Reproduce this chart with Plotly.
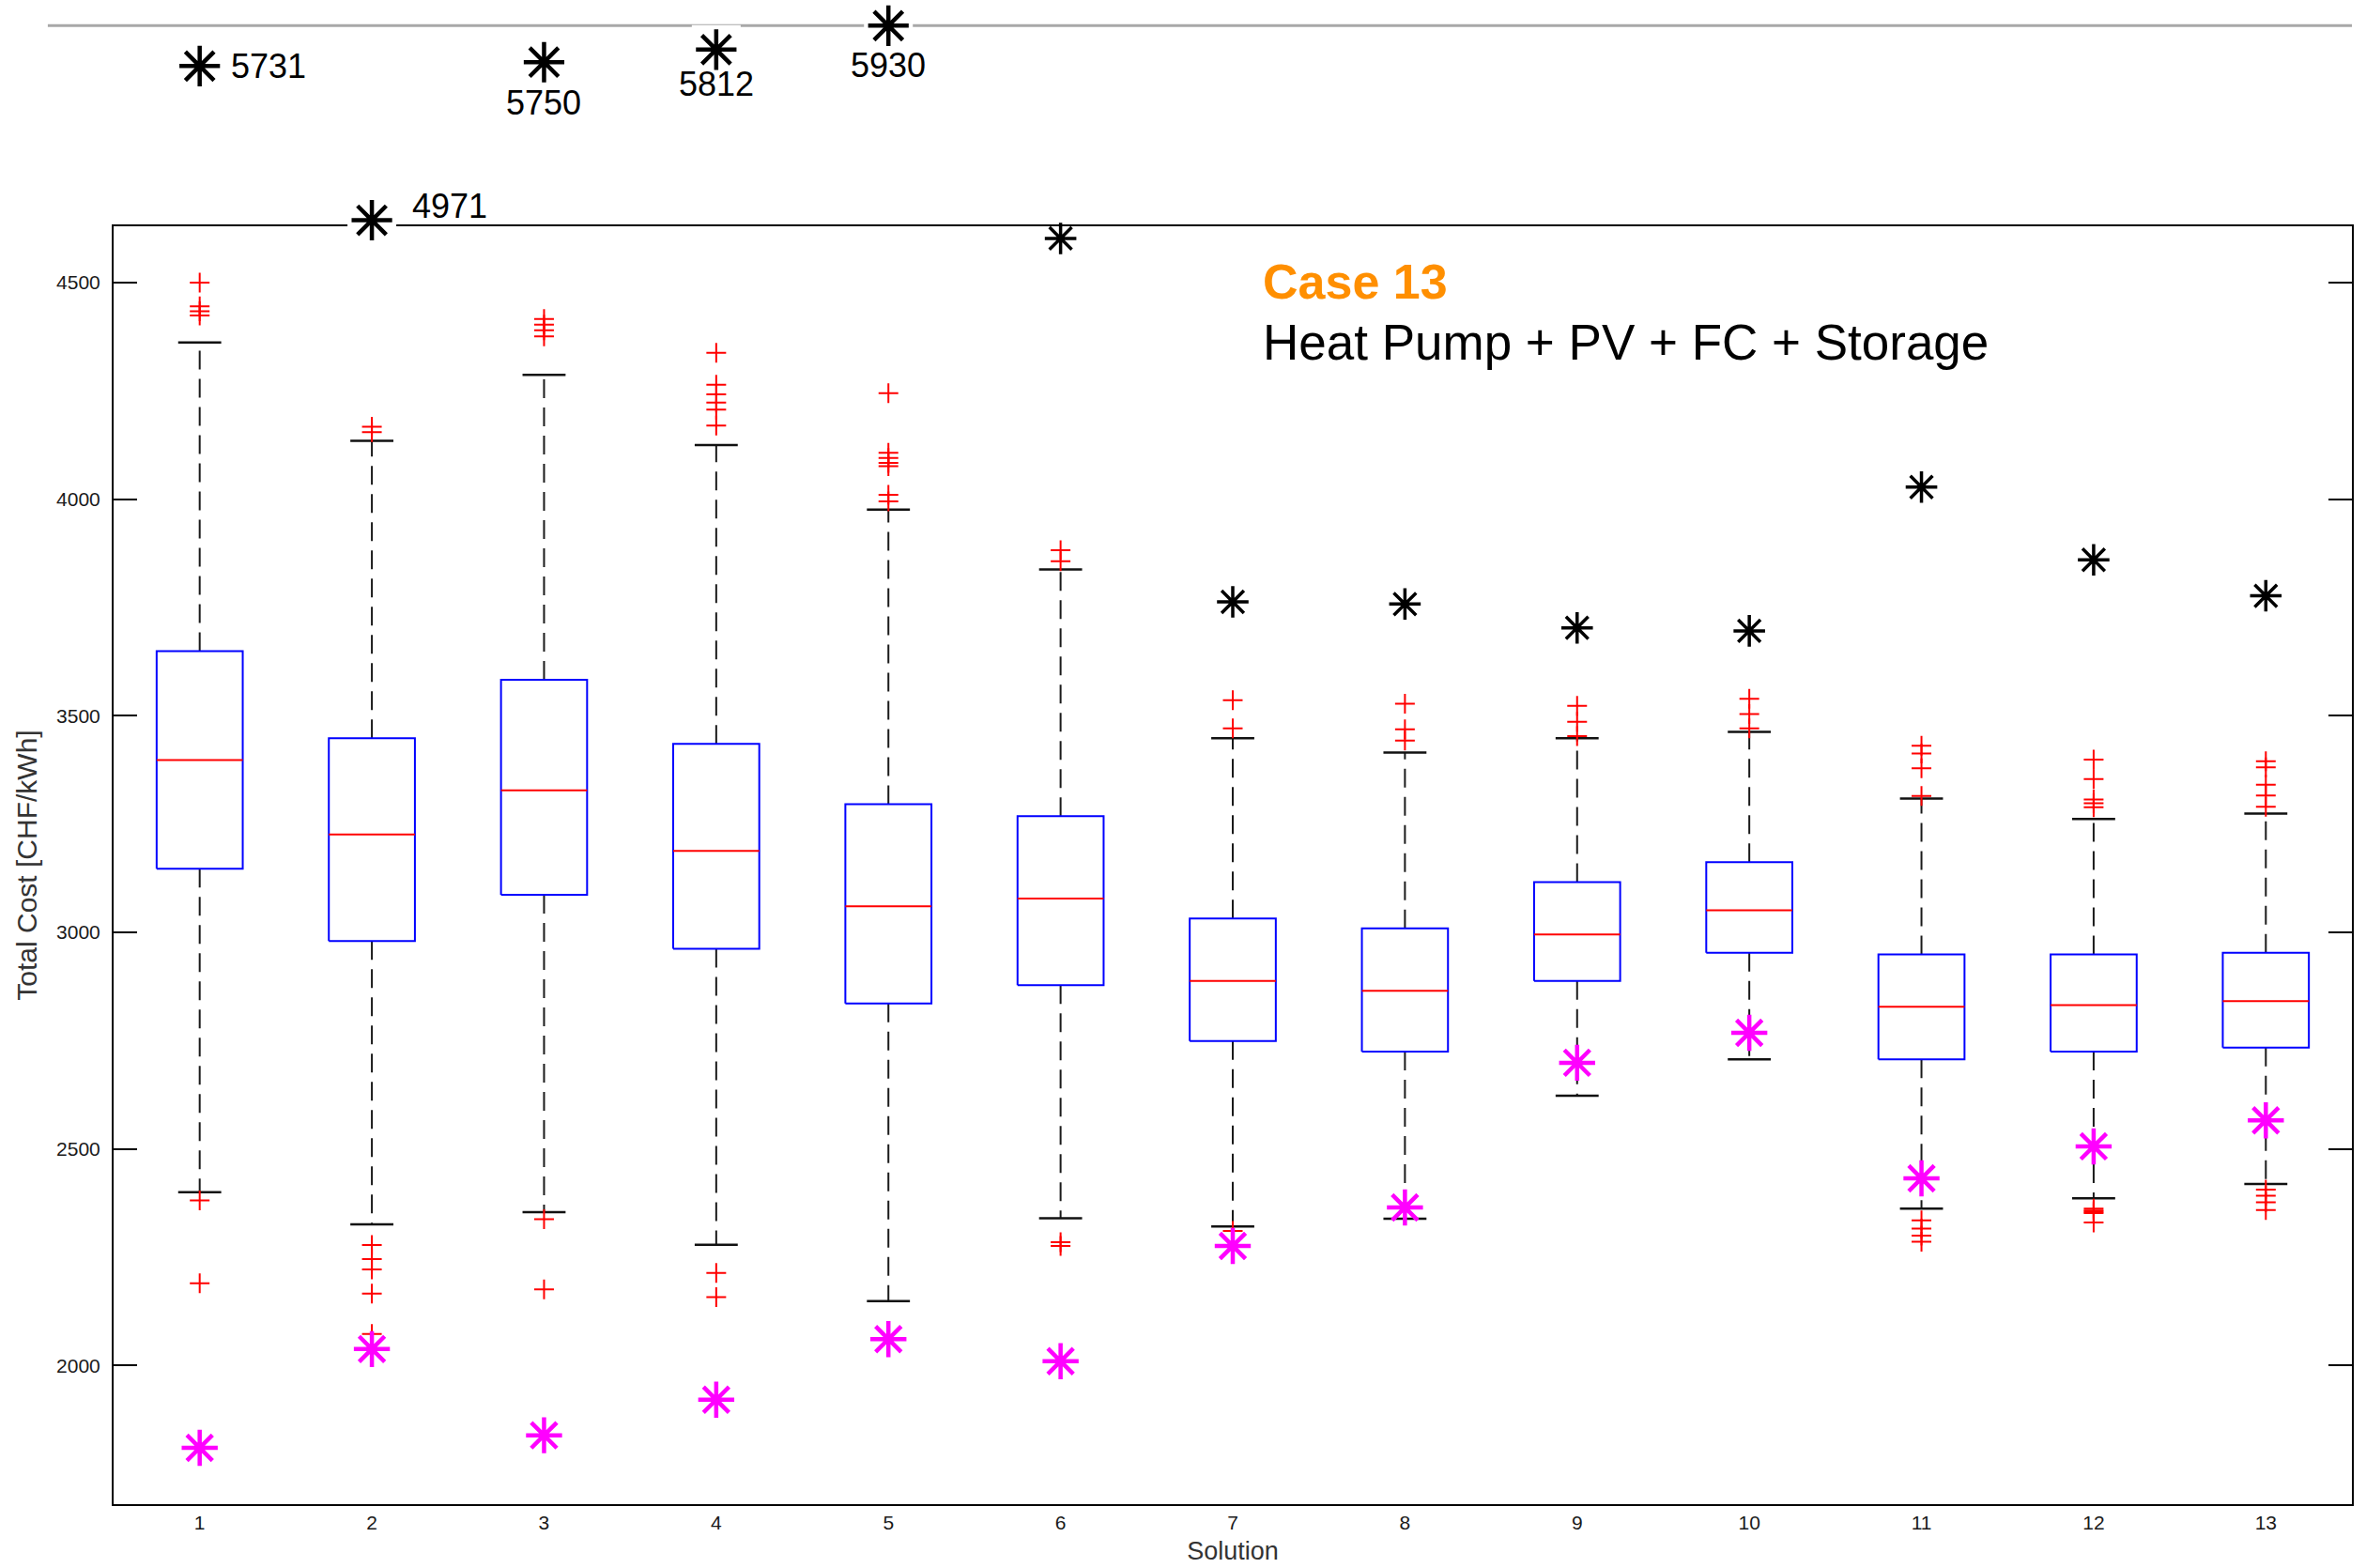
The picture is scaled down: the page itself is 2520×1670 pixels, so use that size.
import plotly.graph_objects as go

# ---- data -------------------------------------------------------------
solutions = list(range(1, 14))

q1 = [3147, 2980, 3087, 2962, 2836, 2878, 2749, 2725, 2888, 2953, 2707, 2725, 2734]
median = [3398, 3226, 3328, 3188, 3060, 3078, 2888, 2865, 2995, 3051, 2828, 2832, 2841]
q3 = [3649, 3448, 3583, 3435, 3296, 3268, 3032, 3009, 3116, 3162, 2949, 2949, 2953]
whisker_high = [4362, 4135, 4287, 4125, 3976, 3838, 3448, 3415, 3448, 3463, 3309, 3262, 3274]
whisker_low = [2400, 2326, 2354, 2279, 2149, 2340, 2321, 2339, 2623, 2707, 2362, 2386, 2419]

outliers = [
    [4500, 4445, 4434, 4424, 2381, 2190],
    [4167, 4155, 2278, 2246, 2222, 2166, 2073],
    [4416, 4403, 4390, 4376, 2338, 2176],
    [4338, 4264, 4242, 4223, 4207, 4170, 2214, 2158],
    [4245, 4107, 4095, 4084, 4076, 4010, 3995],
    [3882, 3857, 2285, 2276],
    [3536, 3471, 2311],
    [3528, 3469, 3443],
    [3523, 3486, 3453],
    [3539, 3504, 3471],
    [3431, 3413, 3379, 3315, 2335, 2316, 2300, 2286],
    [3399, 3354, 3307, 3298, 3289, 2362, 2358, 2355, 2352, 2330],
    [3395, 3381, 3341, 3316, 3290, 2406, 2392, 2377, 2359],
]

# black asterisks (upper reference) and magenta asterisks (lower reference)
ref_high = [5731, 4971, 5750, 5812, 5930, 4602, 3763, 3758, 3703, 3696, 4028, 3860, 3777]
ref_low = [1810, 2038, 1839, 1921, 2061, 2010, 2276, 2365, 2699, 2768, 2432, 2506, 2566]

y_ticks = [2000, 2500, 3000, 3500, 4000, 4500]

# ---- styling ----------------------------------------------------------
Y_RANGE = [1680, 4630]          # main axis limits
OVER_RANGE = [4941, 5964]       # compressed strip for values beyond the main axis
MAIN_TOP = 0.8603               # top of the main axis domain
BOX_HALF = 0.25
CAP_HALF = 0.125
FONT = "Liberation Sans, Arial, Helvetica, sans-serif"

# where each overflow label sits relative to its marker
over_label_style = {
    1: dict(xanchor="left", xshift=31, yshift=0),
    2: dict(xanchor="left", xshift=41, yshift=15),
    3: dict(xanchor="center", xshift=0, yshift=-43),
    4: dict(xanchor="center", xshift=0, yshift=-37),
    5: dict(xanchor="center", xshift=0, yshift=-42),
}

fig = go.Figure()

# whiskers (dashed)
wx, wy = [], []
for s, lo, a, b, hi in zip(solutions, whisker_low, q1, q3, whisker_high):
    wx += [s, s, None, s, s, None]
    wy += [b, hi, None, a, lo, None]
fig.add_trace(go.Scatter(x=wx, y=wy, mode="lines", hoverinfo="skip",
                         line=dict(color="#1a1a1a", width=2, dash="20px,10px")))

# whisker caps
cx, cy = [], []
for s, lo, hi in zip(solutions, whisker_low, whisker_high):
    cx += [s - CAP_HALF, s + CAP_HALF, None, s - CAP_HALF, s + CAP_HALF, None]
    cy += [hi, hi, None, lo, lo, None]
fig.add_trace(go.Scatter(x=cx, y=cy, mode="lines", hoverinfo="skip",
                         line=dict(color="#111111", width=2.5)))

# boxes
bx, by = [], []
for s, a, b in zip(solutions, q1, q3):
    bx += [s - BOX_HALF, s + BOX_HALF, s + BOX_HALF, s - BOX_HALF, s - BOX_HALF, None]
    by += [a, a, b, b, a, None]
fig.add_trace(go.Scatter(x=bx, y=by, mode="lines", hoverinfo="skip",
                         line=dict(color="#0000FF", width=2)))

# medians
mx, my = [], []
for s, m in zip(solutions, median):
    mx += [s - BOX_HALF, s + BOX_HALF, None]
    my += [m, m, None]
fig.add_trace(go.Scatter(x=mx, y=my, mode="lines", hoverinfo="skip",
                         line=dict(color="#FF0000", width=2)))

# outliers
ox, oy = [], []
for s, vals in zip(solutions, outliers):
    ox += [s] * len(vals)
    oy += vals
fig.add_trace(go.Scatter(x=ox, y=oy, mode="markers",
                         marker=dict(symbol="cross-thin-open", size=15, color="#FF0000",
                                     line=dict(color="#FF0000", width=2))))

# lower reference asterisks
fig.add_trace(go.Scatter(x=solutions, y=ref_low, mode="markers", cliponaxis=False,
                         marker=dict(symbol="asterisk-open", size=32, color="#FF00FF",
                                     line=dict(color="#FF00FF", width=4.5))))

# upper reference asterisks inside the main axis
in_x = [s for s, v in zip(solutions, ref_high) if v <= Y_RANGE[1]]
in_y = [v for v in ref_high if v <= Y_RANGE[1]]
fig.add_trace(go.Scatter(x=in_x, y=in_y, mode="markers", cliponaxis=False,
                         marker=dict(symbol="asterisk-open", size=28, color="#000000",
                                     line=dict(color="#000000", width=3.5))))

# values beyond the main axis go into the compressed strip above it
over_x = [s for s, v in zip(solutions, ref_high) if v > Y_RANGE[1]]
over_y = [v for v in ref_high if v > Y_RANGE[1]]
fig.add_trace(go.Scatter(x=over_x, y=over_y, yaxis="y2", mode="markers", cliponaxis=False,
                         hoverinfo="skip",
                         marker=dict(symbol="square", size=52, color="white",
                                     line=dict(width=0))))
fig.add_trace(go.Scatter(x=over_x, y=over_y, yaxis="y2", mode="markers", cliponaxis=False,
                         marker=dict(symbol="asterisk-open", size=36, color="#000000",
                                     line=dict(color="#000000", width=4.5))))

for s, v in zip(over_x, over_y):
    st = over_label_style[s]
    fig.add_annotation(x=s, y=v, xref="x", yref="y2", text=str(v), showarrow=False,
                       xanchor=st["xanchor"], yanchor="middle",
                       xshift=st["xshift"], yshift=st["yshift"],
                       font=dict(family=FONT, size=36, color="#000000"))

# separator line across the top of the overflow strip
fig.add_shape(type="line", xref="paper", yref="y2 domain", layer="below",
              x0=-0.0294, x1=1.0, y0=0.967, y1=0.967,
              line=dict(color="#a8a8a8", width=3))

# heading
fig.add_annotation(x=0.5126, y=0.823, xref="paper", yref="paper", text="<b>Case 13</b>",
                   showarrow=False, xanchor="left", yanchor="middle",
                   font=dict(family=FONT, size=52, color="#FF8F00"))
fig.add_annotation(x=0.5126, y=0.782, xref="paper", yref="paper",
                   text="Heat Pump + PV + FC + Storage",
                   showarrow=False, xanchor="left", yanchor="middle",
                   font=dict(family=FONT, size=53, color="#000000"))

fig.update_layout(
    width=2520, height=1670,
    margin=dict(l=121, r=15, t=20, b=68),
    paper_bgcolor="white", plot_bgcolor="white",
    showlegend=False,
    font=dict(family=FONT, color="#1a1a1a"),
    xaxis=dict(
        range=[0.5, 13.5], tickvals=solutions, ticktext=[str(s) for s in solutions],
        ticks="", showgrid=False, zeroline=False,
        showline=True, mirror=True, linecolor="#000000", linewidth=2,
        tickfont=dict(size=21, color="#1a1a1a"),
        title=dict(text="Solution", font=dict(size=27, color="#333333"), standoff=10),
        automargin=False, anchor="y",
    ),
    yaxis=dict(
        domain=[0, MAIN_TOP], range=Y_RANGE, tickvals=y_ticks,
        ticks="inside", ticklen=25, tickwidth=2, tickcolor="#000000",
        showgrid=False, zeroline=False,
        showline=True, mirror="ticks", linecolor="#000000", linewidth=2,
        tickfont=dict(size=21, color="#1a1a1a"), ticklabelstandoff=8,
        title=dict(text="Total Cost [CHF/kWh]", font=dict(size=30, color="#333333"), standoff=12),
        automargin=False,
    ),
    yaxis2=dict(
        domain=[MAIN_TOP, 1.0], range=OVER_RANGE, anchor="x",
        visible=False, showgrid=False, zeroline=False,
    ),
)

fig.write_html("out.html")
